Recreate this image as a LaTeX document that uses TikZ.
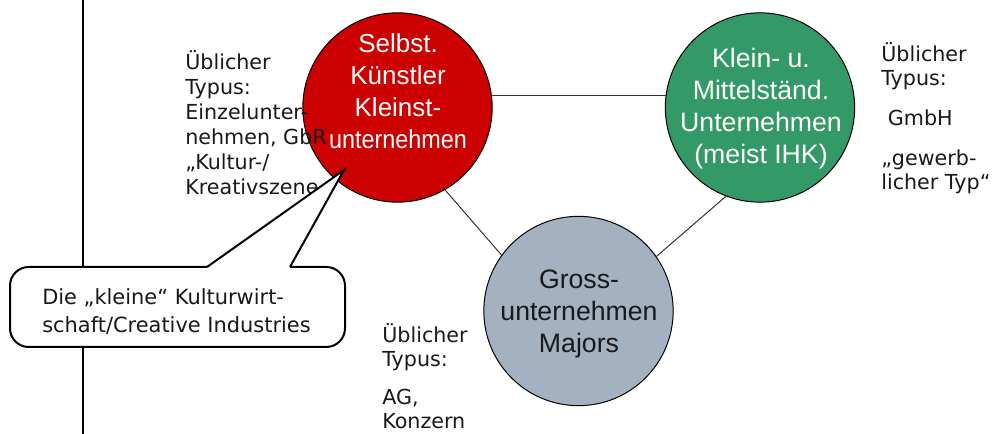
\documentclass[tikz,border=0pt]{standalone}
\usepackage{fontspec}
\newfontfamily\verdana{DejaVu Sans}
\newfontfamily\arial{Liberation Sans}
\usetikzlibrary{calc}
\definecolor{kuenstlerred}{RGB}{204,0,0}
\definecolor{kmugreen}{RGB}{51,153,102}
\definecolor{grossgrey}{RGB}{163,177,192}

\begin{document}
\begin{tikzpicture}[x=0.75pt,y=-0.75pt,
  bubble/.style={circle,draw=black,line width=0.75pt,minimum size=142pt,inner sep=0pt},
  bubbletext/.style={align=center,anchor=base,inner sep=0pt,font=\arial\fontsize{20}{24}\selectfont},
  typtext/.style={align=left,anchor=base west,inner sep=0pt,text=black!90,font=\verdana\fontsize{15.5}{18}\selectfont},
  link/.style={draw=black!80,line width=0.75pt}]
\useasboundingbox (0,0) rectangle (993,434);
\draw[line width=1.5pt](83,0)--(83,434);

\node[bubble,fill=kuenstlerred](kuenstler) at (397.5,107.5){};
\node[bubble,fill=kmugreen](kmu) at (760,107.5){};
\node[bubble,fill=grossgrey](gross) at (578.5,311){};

\draw[link](kuenstler.7)--(kmu.173);
\draw[link](kuenstler.-60)--(gross.144);
\draw[link](kmu.-111)--(gross.35);

\node[typtext,font=\verdana\fontsize{15.5}{18.75}\selectfont](kuenstlertyp) at (185,195){Üblicher\\Typus:\\Einzelunter-\\nehmen, GbR\\„Kultur-/\\Kreativszene};
\node[typtext](kmutyp) at (881,190){Üblicher\\Typus:\\[12pt]\hspace*{5pt}GmbH\\[12pt]„gewerb-\\licher Typ“};
\node[typtext](grosstyp) at (382,429){Üblicher\\Typus:\\[10.5pt]AG,\\Konzern};

\node[bubbletext,text=white,font=\arial\fontsize{19.5}{24}\selectfont](kuenstlerlabel) at (398,149){Selbst.\\Künstler\\Kleinst-\\\scalebox{0.9}[1]{unternehmen}};
\node[bubbletext,text=white](kmulabel) at (761,164){Klein- u.\\Mittelständ.\\Unternehmen\\(meist IHK)};
\node[bubbletext,text=black!90](grosslabel) at (579,353){Gross-\\unternehmen\\Majors};

\node[draw=black,line width=1.5pt,fill=white,rounded corners=14pt,minimum width=251.25pt,minimum height=60pt,inner sep=0pt](callout) at (177.5,307){};
\coordinate (wedgeL) at (207,267);
\coordinate (wedgeR) at (290,267);
\coordinate (tip) at (344,170);
\fill[white]($(wedgeL)+(0,4)$)--(wedgeL)--(tip)--(wedgeR)--($(wedgeR)+(0,4)$)--cycle;
\draw[line width=1.5pt](wedgeL)--(tip)--(wedgeR);
\node[typtext,font=\verdana\fontsize{15.7}{21}\selectfont](callouttext) at (42,333){Die „kleine“ Kulturwirt-\\schaft/Creative Industries};
\end{tikzpicture}
\end{document}
